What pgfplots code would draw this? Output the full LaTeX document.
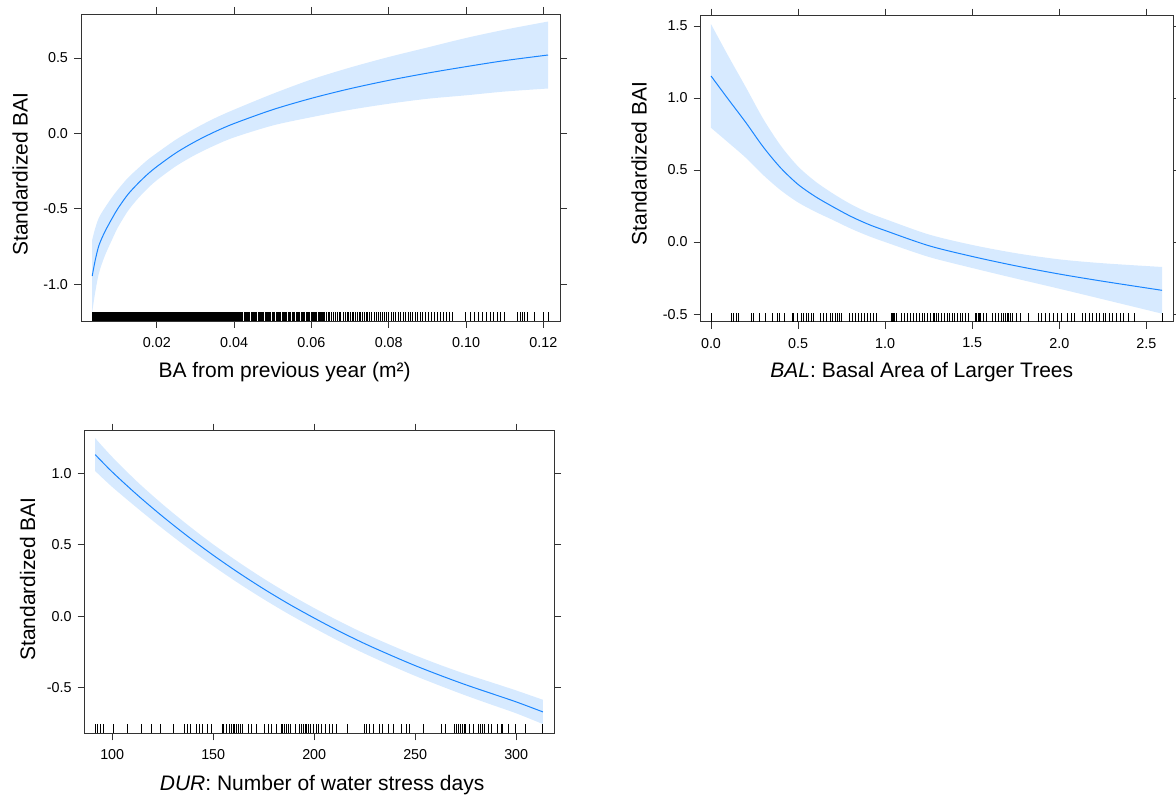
\documentclass[border=0pt]{standalone}
\usepackage{fontspec}
\setmainfont{Liberation Sans}
\usepackage{pgfplots}
\usepackage{pgfplotstable}
\pgfplotsset{compat=1.18}
\usepgfplotslibrary{fillbetween}

\definecolor{fitline}{HTML}{1A86FF}
\definecolor{band}{HTML}{D7EAFF}

% rug tick: a short vertical stroke standing on the point
\pgfdeclareplotmark{rug}{\pgfpathmoveto{\pgfpointorigin}\pgfpathlineto{\pgfpoint{0pt}{6.8pt}}\pgfusepathqstroke}

\pgfplotsset{
  effpanel/.style={
    scale only axis,
    anchor=south west,
    axis line style={black!80, line width=0.65pt},
    tick align=outside,
    tick pos=both,
    major tick length=5.25pt,
    every tick/.style={black!80, line width=0.65pt},
    tick label style={font=\fontsize{10.75}{12}\selectfont},
    xticklabel style={yshift=-3.5pt},
    yticklabel style={xshift=-1pt},
    label style={font=\fontsize{15.75}{18}\selectfont},
    ylabel={Standardized BAI},
    ylabel style={anchor=center},
    xlabel style={anchor=center},
  },
  rugs/.style={only marks, mark=rug, mark options={line width=0.7pt, draw=black}},
}

% effect of BA from previous year
\pgfplotstableread{
x fit up lo
0.0033 -0.945 -0.705 -1.185
0.0040 -0.850 -0.635 -1.065
0.0050 -0.745 -0.560 -0.930
0.0065 -0.655 -0.495 -0.815
0.0085 -0.560 -0.420 -0.700
0.0100 -0.495 -0.370 -0.620
0.0125 -0.405 -0.295 -0.515
0.0150 -0.335 -0.235 -0.435
0.0175 -0.273 -0.178 -0.368
0.0200 -0.220 -0.130 -0.310
0.0250 -0.128 -0.040 -0.216
0.0300 -0.053 0.035 -0.141
0.0350 0.011 0.101 -0.079
0.0400 0.066 0.158 -0.026
0.0500 0.158 0.263 0.053
0.0600 0.233 0.358 0.108
0.0700 0.297 0.437 0.157
0.0800 0.352 0.507 0.197
0.0900 0.400 0.570 0.230
0.1000 0.443 0.633 0.253
0.1100 0.483 0.688 0.278
0.1212 0.520 0.742 0.298
}\tBA

% rug positions (y = bottom of panel)
\pgfplotstableread[row sep=\\]{x y\\
0.0426 -1.243\\0.0429 -1.243\\0.0432 -1.243\\0.0435 -1.243\\0.0438 -1.243\\
0.0441 -1.243\\0.0444 -1.243\\0.0447 -1.243\\0.0450 -1.243\\0.0453 -1.243\\
0.0456 -1.243\\0.0459 -1.243\\0.0462 -1.243\\0.0465 -1.243\\0.0468 -1.243\\
0.0471 -1.243\\0.0474 -1.243\\0.0477 -1.243\\0.0480 -1.243\\0.0483 -1.243\\
0.0486 -1.243\\0.0489 -1.243\\0.0492 -1.243\\0.0495 -1.243\\0.0498 -1.243\\
0.0501 -1.243\\0.0504 -1.243\\0.0509 -1.243\\0.0512 -1.243\\0.0515 -1.243\\
0.0518 -1.243\\0.0521 -1.243\\0.0524 -1.243\\0.0527 -1.243\\0.0530 -1.243\\
0.0533 -1.243\\0.0536 -1.243\\0.0541 -1.243\\0.0544 -1.243\\0.0547 -1.243\\
0.0550 -1.243\\0.0553 -1.243\\0.0556 -1.243\\0.0561 -1.243\\0.0564 -1.243\\
0.0567 -1.243\\0.0570 -1.243\\0.0573 -1.243\\0.0576 -1.243\\0.0579 -1.243\\
0.0582 -1.243\\0.0587 -1.243\\0.0590 -1.243\\0.0593 -1.243\\0.0596 -1.243\\
0.0599 -1.243\\0.0602 -1.243\\0.0605 -1.243\\0.0608 -1.243\\0.0611 -1.243\\
0.0614 -1.243\\0.0617 -1.243\\0.0620 -1.243\\0.0623 -1.243\\0.0626 -1.243\\
0.0629 -1.243\\0.0632 -1.243\\0.0635 -1.243\\0.0638 -1.243\\0.0643 -1.243\\
0.0647 -1.243\\0.0652 -1.243\\0.0657 -1.243\\0.0662 -1.243\\0.0668 -1.243\\
0.0672 -1.243\\0.0676 -1.243\\0.0683 -1.243\\0.0687 -1.243\\0.0692 -1.243\\
0.0697 -1.243\\0.0701 -1.243\\0.0706 -1.243\\0.0710 -1.243\\0.0715 -1.243\\
0.0719 -1.243\\0.0724 -1.243\\0.0728 -1.243\\0.0733 -1.243\\0.0737 -1.243\\
0.0742 -1.243\\0.0746 -1.243\\0.0751 -1.243\\0.0756 -1.243\\0.0762 -1.243\\
0.0767 -1.243\\0.0773 -1.243\\0.0778 -1.243\\0.0784 -1.243\\0.0790 -1.243\\
0.0795 -1.243\\0.0800 -1.243\\0.0806 -1.243\\0.0812 -1.243\\0.0818 -1.243\\
0.0824 -1.243\\0.0830 -1.243\\0.0837 -1.243\\0.0843 -1.243\\0.0850 -1.243\\
0.0856 -1.243\\0.0862 -1.243\\0.0868 -1.243\\0.0875 -1.243\\0.0881 -1.243\\
0.0888 -1.243\\0.0895 -1.243\\0.0902 -1.243\\0.0910 -1.243\\0.0918 -1.243\\
0.0925 -1.243\\0.0933 -1.243\\0.0941 -1.243\\0.0950 -1.243\\0.0958 -1.243\\
0.0966 -1.243\\0.0999 -1.243\\0.1012 -1.243\\0.1023 -1.243\\0.1033 -1.243\\
0.1042 -1.243\\0.1052 -1.243\\0.1062 -1.243\\0.1071 -1.243\\0.1081 -1.243\\
0.1090 -1.243\\0.1100 -1.243\\0.1134 -1.243\\0.1140 -1.243\\0.1146 -1.243\\
0.1152 -1.243\\0.1160 -1.243\\0.1177 -1.243\\0.1201 -1.243\\0.1212 -1.243\\
}\rugBA

% effect of BAL
\pgfplotstableread{
x fit up lo
0.00 1.153 1.513 0.793
0.10 0.990 1.290 0.690
0.20 0.830 1.075 0.585
0.30 0.660 0.855 0.465
0.40 0.515 0.670 0.360
0.50 0.400 0.525 0.275
0.60 0.315 0.420 0.210
0.70 0.245 0.337 0.153
0.80 0.180 0.265 0.095
0.90 0.125 0.206 0.044
1.00 0.080 0.160 0.000
1.25 -0.025 0.053 -0.103
1.50 -0.100 -0.020 -0.180
1.75 -0.165 -0.077 -0.253
2.00 -0.222 -0.120 -0.324
2.25 -0.272 -0.147 -0.397
2.59 -0.335 -0.173 -0.497
}\tBAL

\pgfplotstableread[row sep=\\]{x y\\
0.000 -0.553\\0.118 -0.553\\0.129 -0.553\\0.144 -0.553\\0.159 -0.553\\
0.234 -0.553\\0.242 -0.553\\0.277 -0.553\\0.315 -0.553\\0.352 -0.553\\
0.384 -0.553\\0.395 -0.553\\0.423 -0.553\\0.466 -0.553\\0.476 -0.553\\
0.498 -0.553\\0.519 -0.553\\0.530 -0.553\\0.547 -0.553\\0.562 -0.553\\
0.577 -0.553\\0.590 -0.553\\0.631 -0.553\\0.648 -0.553\\0.663 -0.553\\
0.685 -0.553\\0.697 -0.553\\0.712 -0.553\\0.727 -0.553\\0.740 -0.553\\
0.749 -0.553\\0.798 -0.553\\0.813 -0.553\\0.830 -0.553\\0.848 -0.553\\
0.863 -0.553\\0.884 -0.553\\0.899 -0.553\\0.916 -0.553\\0.933 -0.553\\
0.948 -0.553\\1.034 -0.553\\1.041 -0.553\\1.047 -0.553\\1.056 -0.553\\
1.067 -0.553\\1.092 -0.553\\1.109 -0.553\\1.131 -0.553\\1.148 -0.553\\
1.163 -0.553\\1.178 -0.553\\1.195 -0.553\\1.212 -0.553\\1.227 -0.553\\
1.245 -0.553\\1.260 -0.553\\1.277 -0.553\\1.283 -0.553\\1.292 -0.553\\
1.307 -0.553\\1.324 -0.553\\1.341 -0.553\\1.356 -0.553\\1.371 -0.553\\
1.384 -0.553\\1.399 -0.553\\1.414 -0.553\\1.431 -0.553\\1.446 -0.553\\
1.464 -0.553\\1.479 -0.553\\1.517 -0.553\\1.526 -0.553\\1.534 -0.553\\
1.543 -0.553\\1.549 -0.553\\1.564 -0.553\\1.582 -0.553\\1.614 -0.553\\
1.635 -0.553\\1.650 -0.553\\1.667 -0.553\\1.678 -0.553\\1.689 -0.553\\
1.700 -0.553\\1.710 -0.553\\1.721 -0.553\\1.732 -0.553\\1.753 -0.553\\
1.775 -0.553\\1.822 -0.553\\1.882 -0.553\\1.899 -0.553\\1.921 -0.553\\
1.942 -0.553\\1.964 -0.553\\1.989 -0.553\\2.015 -0.553\\2.049 -0.553\\
2.071 -0.553\\2.086 -0.553\\2.135 -0.553\\2.150 -0.553\\2.172 -0.553\\
2.193 -0.553\\2.215 -0.553\\2.230 -0.553\\2.251 -0.553\\2.268 -0.553\\
2.290 -0.553\\2.307 -0.553\\2.328 -0.553\\2.354 -0.553\\2.371 -0.553\\
2.397 -0.553\\2.429 -0.553\\2.590 -0.553\\
}\rugBAL

% effect of DUR
\pgfplotstableread{
x fit up lo
91.6 1.131 1.246 1.016
100.0 1.010 1.115 0.905
112.5 0.848 0.940 0.756
125.0 0.698 0.783 0.613
137.5 0.558 0.638 0.478
150.0 0.427 0.503 0.351
162.5 0.305 0.379 0.231
175.0 0.191 0.263 0.119
187.5 0.085 0.156 0.014
200.0 -0.013 0.057 -0.083
212.5 -0.106 -0.036 -0.176
225.0 -0.192 -0.122 -0.262
237.5 -0.271 -0.200 -0.342
250.0 -0.346 -0.274 -0.418
262.5 -0.415 -0.342 -0.488
275.0 -0.480 -0.405 -0.555
287.5 -0.540 -0.462 -0.618
300.0 -0.600 -0.520 -0.680
313.2 -0.670 -0.585 -0.755
}\tDUR

\pgfplotstableread[row sep=\\]{x y\\
91.6 -0.82\\92.5 -0.82\\94.0 -0.82\\95.8 -0.82\\100.4 -0.82\\
107.7 -0.82\\114.6 -0.82\\119.6 -0.82\\123.8 -0.82\\130.2 -0.82\\
136.0 -0.82\\137.3 -0.82\\138.8 -0.82\\141.5 -0.82\\143.4 -0.82\\
144.8 -0.82\\147.0 -0.82\\149.2 -0.82\\154.4 -0.82\\155.3 -0.82\\
156.5 -0.82\\158.0 -0.82\\158.9 -0.82\\159.8 -0.82\\160.7 -0.82\\
161.7 -0.82\\162.6 -0.82\\163.5 -0.82\\164.4 -0.82\\167.5 -0.82\\
169.0 -0.82\\171.4 -0.82\\175.4 -0.82\\177.2 -0.82\\179.0 -0.82\\
181.4 -0.82\\183.6 -0.82\\184.5 -0.82\\185.5 -0.82\\186.4 -0.82\\
187.3 -0.82\\188.2 -0.82\\190.9 -0.82\\192.8 -0.82\\193.7 -0.82\\
194.6 -0.82\\195.5 -0.82\\196.4 -0.82\\197.3 -0.82\\198.3 -0.82\\
199.7 -0.82\\201.0 -0.82\\202.3 -0.82\\203.7 -0.82\\205.6 -0.82\\
207.4 -0.82\\209.2 -0.82\\211.1 -0.82\\216.6 -0.82\\224.8 -0.82\\
226.1 -0.82\\227.5 -0.82\\229.4 -0.82\\232.1 -0.82\\233.9 -0.82\\
236.7 -0.82\\239.4 -0.82\\243.1 -0.82\\245.8 -0.82\\247.3 -0.82\\
254.1 -0.82\\263.2 -0.82\\265.1 -0.82\\269.6 -0.82\\270.5 -0.82\\
271.5 -0.82\\272.4 -0.82\\273.3 -0.82\\274.2 -0.82\\275.1 -0.82\\
276.9 -0.82\\278.8 -0.82\\281.5 -0.82\\282.4 -0.82\\283.3 -0.82\\
284.3 -0.82\\286.1 -0.82\\287.9 -0.82\\290.7 -0.82\\292.5 -0.82\\
293.4 -0.82\\296.2 -0.82\\299.8 -0.82\\304.4 -0.82\\313.2 -0.82\\
}\rugDUR

\begin{document}
\begin{tikzpicture}

% --- BA from previous year
\begin{axis}[effpanel,
  at={(60.75pt,356.25pt)}, width=359.25pt, height=230.25pt,
  xmin=0.0004, xmax=0.1243, ymin=-1.243, ymax=0.792,
  xtick={0.02,0.04,0.06,0.08,0.10,0.12},
  xticklabels={0.02,0.04,0.06,0.08,0.10,0.12},
  ytick={-1,-0.5,0,0.5},
  yticklabels={-1.0,-0.5,0.0,0.5},
  xlabel={BA from previous year (m²)},
  xlabel style={at={(axis description cs:0.425,-0.166)}},
  ylabel style={at={(axis description cs:-0.127,0.479)}},
]
\addplot[name path=up1, draw=none, smooth, tension=0.5] table[x=x, y=up] {\tBA};
\addplot[name path=lo1, draw=none, smooth, tension=0.5] table[x=x, y=lo] {\tBA};
\addplot[band, draw=none] fill between[of=up1 and lo1];
\addplot[fitline, line width=0.75pt, smooth, tension=0.5] table[x=x, y=fit] {\tBA};
\addplot[fill=black, draw=none] coordinates {(0.0033,-1.243) (0.0423,-1.243) (0.0423,-1.183) (0.0033,-1.183)};
\addplot[rugs] table[x=x, y=y] {\rugBA};
\end{axis}

% --- BAL
\begin{axis}[effpanel,
  at={(525.4pt,355.7pt)}, width=354.6pt, height=229.5pt,
  xmin=-0.06, xmax=2.655, ymin=-0.553, ymax=1.571,
  xtick={0,0.5,1,1.5,2,2.5},
  xticklabels={0.0,0.5,1.0,1.5,2.0,2.5},
  ytick={-0.5,0,0.5,1,1.5},
  yticklabels={-0.5,0.0,0.5,1.0,1.5},
  xlabel={\textit{BAL}: Basal Area of Larger Trees},
  xlabel style={at={(axis description cs:0.468,-0.163)}},
  ylabel style={at={(axis description cs:-0.130,0.517)}},
]
\addplot[name path=up2, draw=none, smooth, tension=0.5] table[x=x, y=up] {\tBAL};
\addplot[name path=lo2, draw=none, smooth, tension=0.5] table[x=x, y=lo] {\tBAL};
\addplot[band, draw=none] fill between[of=up2 and lo2];
\addplot[fitline, line width=0.75pt, smooth, tension=0.5] table[x=x, y=fit] {\tBAL};
\addplot[rugs] table[x=x, y=y] {\rugBAL};
\end{axis}

% --- DUR
\begin{axis}[effpanel,
  at={(63.4pt,47.0pt)}, width=352.1pt, height=227pt,
  xmin=86.3, xmax=318.7, ymin=-0.820, ymax=1.299,
  xtick={100,150,200,250,300},
  xticklabels={100,150,200,250,300},
  ytick={-0.5,0,0.5,1},
  yticklabels={-0.5,0.0,0.5,1.0},
  xlabel={\textit{DUR}: Number of water stress days},
  xlabel style={at={(axis description cs:0.506,-0.171)}},
  ylabel style={at={(axis description cs:-0.121,0.510)}},
]
\addplot[name path=up3, draw=none, smooth, tension=0.5] table[x=x, y=up] {\tDUR};
\addplot[name path=lo3, draw=none, smooth, tension=0.5] table[x=x, y=lo] {\tDUR};
\addplot[band, draw=none] fill between[of=up3 and lo3];
\addplot[fitline, line width=0.75pt, smooth, tension=0.5] table[x=x, y=fit] {\tDUR};
\addplot[rugs] table[x=x, y=y] {\rugDUR};
\end{axis}

% fix the page to the reference's frame
\pgfresetboundingbox
\useasboundingbox (0,0) rectangle (882pt,597pt);
\end{tikzpicture}
\end{document}
